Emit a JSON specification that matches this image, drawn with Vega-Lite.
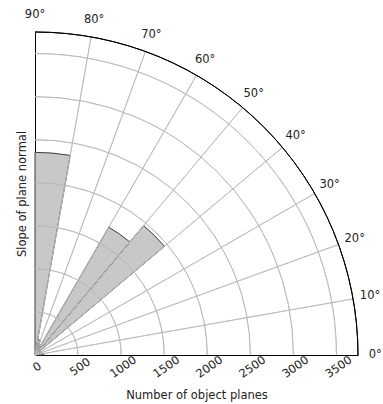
{
  "$schema": "https://vega.github.io/schema/vega-lite/v6.json",
  "width": 323,
  "height": 323,
  "autosize": {"type": "none"},
  "padding": {"left": 35, "top": 32, "right": 25, "bottom": 49},
  "background": "white",
  "config": {
    "view": {"stroke": null},
    "font": "DejaVu Sans",
    "axis": {"labelFont": "DejaVu Sans", "titleFont": "DejaVu Sans", "labelFontSize": 11.5, "titleFontSize": 11.5, "titleFontWeight": "normal", "labelColor": "#222", "titleColor": "#222"}
  },
  "datasets": {
    "bins": [
      {"a0": 0, "a1": 10, "count": 100},
      {"a0": 10, "a1": 20, "count": 60},
      {"a0": 20, "a1": 30, "count": 60},
      {"a0": 30, "a1": 40, "count": 80},
      {"a0": 40, "a1": 50, "count": 1962},
      {"a0": 50, "a1": 60, "count": 1713},
      {"a0": 60, "a1": 70, "count": 120},
      {"a0": 70, "a1": 80, "count": 180},
      {"a0": 80, "a1": 90, "count": 2353}
    ],
    "rings": [
      {"r": 500}, {"r": 1000}, {"r": 1500}, {"r": 2000}, {"r": 2500}, {"r": 3000}, {"r": 3500}
    ],
    "spokes": [
      {"a": 10}, {"a": 20}, {"a": 30}, {"a": 40}, {"a": 50}, {"a": 60}, {"a": 70}, {"a": 80}
    ],
    "labels": [
      {"a": 0, "t": "0°"}, {"a": 10, "t": "10°"}, {"a": 20, "t": "20°"}, {"a": 30, "t": "30°"},
      {"a": 40, "t": "40°"}, {"a": 50, "t": "50°"}, {"a": 60, "t": "60°"}, {"a": 70, "t": "70°"},
      {"a": 80, "t": "80°"}, {"a": 90, "t": "90°"}
    ],
    "outer": [{"r": 3750}]
  },
  "encoding": {
    "x": {
      "datum": 0,
      "type": "quantitative",
      "scale": {"domain": [0, 3750], "nice": false, "zero": true},
      "axis": {
        "title": "Number of object planes",
        "values": [0, 500, 1000, 1500, 2000, 2500, 3000, 3500],
        "format": "d",
        "grid": false, "ticks": false, "tickSize": 0,
        "labelAngle": -35, "labelAlign": "center", "labelBaseline": "middle",
        "labelPadding": 12, "labelOffset": 2,
        "domainColor": "#000", "domainWidth": 1,
        "titlePadding": 10
      }
    },
    "y": {
      "datum": 0,
      "type": "quantitative",
      "scale": {"domain": [0, 3750], "nice": false, "zero": true},
      "axis": {
        "title": "Slope of plane normal",
        "grid": false, "ticks": false, "tickSize": 0, "labels": false,
        "domainColor": "#000", "domainWidth": 1,
        "titlePadding": 8
      }
    }
  },
  "layer": [
    {
      "data": {"name": "bins"},
      "mark": {"type": "arc", "fill": "#c8c8c8", "stroke": "#3a3a3a", "strokeWidth": 1},
      "encoding": {
        "theta": {"field": "a0", "type": "quantitative", "scale": {"domain": [0, 90], "range": [1.5707963267948966, 0]}},
        "theta2": {"field": "a1"},
        "radius": {"field": "count", "type": "quantitative", "scale": {"type": "linear", "domain": [0, 3750], "range": [0, 323], "zero": true}}
      }
    },
    {
      "data": {"name": "rings"},
      "mark": {"type": "arc", "fill": null, "filled": false, "stroke": "#b8b8b8", "strokeWidth": 0.8},
      "encoding": {
        "theta": {"datum": 0, "type": "quantitative"},
        "theta2": {"datum": 90},
        "radius": {"field": "r", "type": "quantitative"},
        "radius2": {"field": "r"}
      }
    },
    {
      "data": {"name": "spokes"},
      "mark": {"type": "arc", "fill": null, "filled": false, "stroke": "#b8b8b8", "strokeWidth": 0.8},
      "encoding": {
        "theta": {"field": "a", "type": "quantitative"},
        "theta2": {"field": "a"},
        "radius": {"datum": 3750, "type": "quantitative"}
      }
    },
    {
      "data": {"name": "outer"},
      "mark": {"type": "arc", "fill": null, "filled": false, "stroke": "#000", "strokeWidth": 1},
      "encoding": {
        "theta": {"datum": 0, "type": "quantitative"},
        "theta2": {"datum": 90},
        "radius": {"field": "r", "type": "quantitative"},
        "radius2": {"field": "r"}
      }
    },
    {
      "data": {"name": "labels"},
      "mark": {"type": "text", "font": "DejaVu Sans", "fontSize": 11.5, "color": "#222", "align": "center", "baseline": "middle"},
      "encoding": {
        "theta": {"field": "a", "type": "quantitative"},
        "radius": {"datum": 3950, "type": "quantitative"},
        "text": {"field": "t"}
      }
    }
  ]
}
